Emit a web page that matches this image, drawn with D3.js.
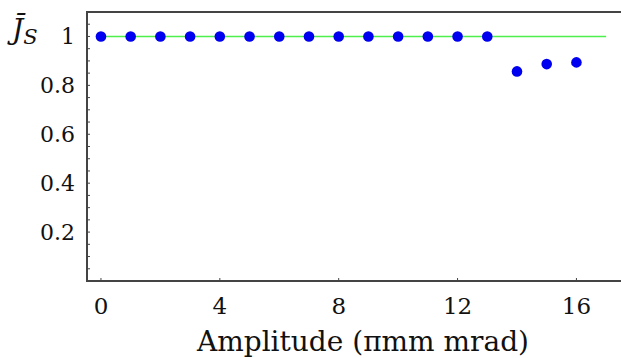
<!DOCTYPE html>
<head>
  <meta charset="utf-8">
  <script src="https://cdnjs.cloudflare.com/ajax/libs/d3/7.8.5/d3.min.js"></script>
  <style>
    body { margin:0; background:#fff; }
    svg { display:block; }
  </style>
</head>
<body>
  <script>
    // amplitude (pi mm mrad) vs mean J_S
    var amplitude = [0, 1, 2, 3, 4, 5, 6, 7, 8, 9, 10, 11, 12, 13, 14, 15, 16];
    var jsMean    = [1, 1, 1, 1, 1, 1, 1, 1, 1, 1, 1, 1, 1, 1, 0.857, 0.887, 0.894];
    var refLine   = [[0, 1], [17, 1]];
    var xTicks = [0, 4, 8, 12, 16];
    var yTicks = [0.2, 0.4, 0.6, 0.8, 1];

    var width = 621, height = 358;
    var svg = d3.select("body").append("svg")
      .attr("width", width)
      .attr("height", height);

    var x = d3.scaleLinear().domain([-0.47, 17.5]).range([87, 621]);
    var y = d3.scaleLinear().domain([0, 1.1]).range([281, 12]);

    var frame = "#444";
    var serif = "DejaVu Serif";

    // top + left + bottom frame lines
    svg.append("path")
      .attr("d", "M" + x.range()[1] + "," + y(1.1) + "H" + x.range()[0] + "V" + y(0) + "H" + x.range()[1])
      .style("fill", "none").style("stroke", frame).style("stroke-width", 2);

    // y ticks, inward, every 0.05
    var yMinor = d3.range(0.05, 1.1, 0.05);
    svg.append("g").selectAll("line").data(yMinor).enter().append("line")
      .attr("x1", x.range()[0]).attr("x2", x.range()[0] + 3)
      .attr("y1", function(d){ return y(d); }).attr("y2", function(d){ return y(d); })
      .style("stroke", frame).style("stroke-width", 1);

    svg.append("g").selectAll("text").data(yTicks).enter().append("text")
      .attr("x", 75).attr("y", function(d){ return y(d) + 8; })
      .attr("text-anchor", "end")
      .attr("font-family", serif)
      .attr("font-size", 22).attr("fill", "#111")
      .text(function(d){ return d === 1 ? "1" : d3.format(".1f")(d); });

    // x ticks, inward
    svg.append("g").selectAll("line").data(xTicks).enter().append("line")
      .attr("x1", function(d){ return x(d); }).attr("x2", function(d){ return x(d); })
      .attr("y1", y(0)).attr("y2", y(0) - 3)
      .style("stroke", frame).style("stroke-width", 1);

    svg.append("g").selectAll("text").data(xTicks).enter().append("text")
      .attr("x", function(d){ return x(d); }).attr("y", 314)
      .attr("text-anchor", "middle")
      .attr("font-family", serif)
      .attr("font-size", 23).attr("fill", "#111")
      .text(function(d){ return d; });

    // axis titles
    svg.append("text")
      .attr("x", 363).attr("y", 351)
      .attr("text-anchor", "middle")
      .attr("font-family", serif)
      .attr("font-size", 28).attr("fill", "#111")
      .text("Amplitude (\u03c0mm mrad)");

    var yl = svg.append("text")
      .attr("x", 12).attr("y", 39)
      .attr("font-family", serif)
      .attr("font-size", 28).attr("font-style", "italic").attr("fill", "#111");
    yl.append("tspan").text("J\u0304");
    yl.append("tspan").attr("dy", 5).attr("font-size", 21).text("S");

    // reference line
    svg.append("path")
      .datum(refLine)
      .attr("d", d3.line().x(function(d){ return x(d[0]); }).y(function(d){ return y(d[1]); }))
      .style("fill", "none").style("stroke", "#4ef04e").style("stroke-width", 1.5);

    // points
    svg.append("g").selectAll("circle").data(amplitude).enter().append("circle")
      .attr("cx", function(d){ return x(d); })
      .attr("cy", function(d, i){ return y(jsMean[i]); })
      .attr("r", 5.3)
      .style("fill", "#0000f0");
  </script>
</body>
